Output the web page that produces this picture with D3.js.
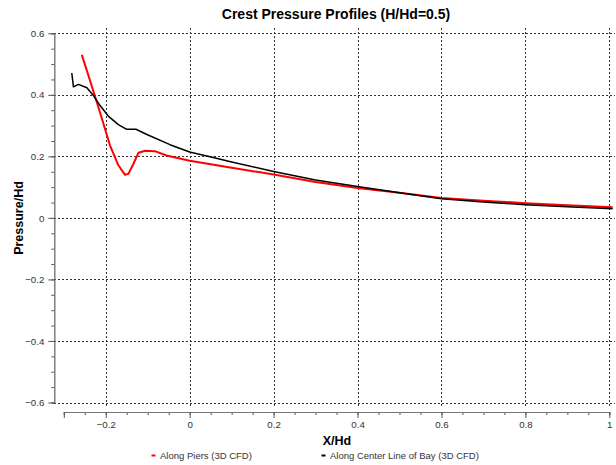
<!DOCTYPE html>
<html>
<head>
<meta charset="utf-8">
<script src="https://cdn.jsdelivr.net/npm/d3@7"></script>
<style>
  html, body { margin: 0; padding: 0; background: #fff; }
  svg { display: block; font-family: "Liberation Sans", Arial, sans-serif; }
</style>
</head>
<body>
<svg id="chart" width="616" height="465"></svg>
<script>
// Crest pressure profiles, normalized by design head
const pierX = [-0.257, -0.236, -0.214, -0.190, -0.170, -0.154, -0.146, -0.134, -0.122, -0.106, -0.083, -0.055, 0.0, 0.1, 0.2, 0.3, 0.4, 0.5, 0.6, 0.7, 0.8, 0.9, 1.008];
const pierY = [0.530, 0.440, 0.344, 0.236, 0.171, 0.140, 0.143, 0.176, 0.212, 0.218, 0.217, 0.203, 0.186, 0.163, 0.141, 0.117, 0.097, 0.082, 0.065, 0.056, 0.048, 0.041, 0.035];

const centerX = [-0.281, -0.277, -0.265, -0.245, -0.230, -0.214, -0.194, -0.170, -0.150, -0.128, -0.102, -0.047, 0.0, 0.056, 0.1, 0.2, 0.3, 0.4, 0.5, 0.6, 0.7, 0.8, 0.9, 1.008];
const centerY = [0.471, 0.426, 0.434, 0.423, 0.399, 0.366, 0.331, 0.303, 0.288, 0.288, 0.271, 0.238, 0.214, 0.196, 0.182, 0.151, 0.123, 0.102, 0.082, 0.062, 0.052, 0.043, 0.036, 0.030];

const xTicks = [-0.2, 0, 0.2, 0.4, 0.6, 0.8, 1];
const yTicks = [-0.6, -0.4, -0.2, 0, 0.2, 0.4, 0.6];
const xMinor = d3.range(-0.3, 1.0001, 0.05).map(v => +v.toFixed(2));
const yMinor = d3.range(-0.6, 0.6001, 0.05).map(v => +v.toFixed(2));

const seriesNames = ["Along Piers (3D CFD)", "Along Center Line of Bay (3D CFD)"];
const seriesColors = ["#ff0000", "#000000"];

const titleText = "Crest Pressure Profiles (H/Hd=0.5)";
const xLabel = "X/Hd";
const yLabel = "Pressure/Hd";

const svg = d3.select("#chart");

const x = d3.scaleLinear().domain([-0.3, 1]).range([63.8, 609.3]);
const y = d3.scaleLinear().domain([-0.6, 0.6]).range([402.5, 33.3]);

const yAxisX = 54.3;
const xAxisY = 412;
const fmt = d => (d === 0 ? "0" : d3.format("")(+d.toFixed(1)));

// grid
const grid = svg.append("g").attr("stroke", "#333").attr("stroke-width", 1)
  .attr("stroke-dasharray", "2,2").attr("shape-rendering", "crispEdges");
grid.selectAll("line.v").data(xTicks).join("line").attr("class", "v")
  .attr("x1", d => Math.round(x(d)) + 0.5).attr("x2", d => Math.round(x(d)) + 0.5)
  .attr("y1", 28).attr("y2", 407);
grid.selectAll("line.h").data(yTicks).join("line").attr("class", "h")
  .attr("x1", yAxisX).attr("x2", 615)
  .attr("y1", d => Math.round(y(d)) + 0.5).attr("y2", d => Math.round(y(d)) + 0.5);

// y axis
const yMinorAxis = d3.axisLeft(y).tickValues(yMinor).tickSize(3).tickFormat("");
const yMajorAxis = d3.axisLeft(y).tickValues(yTicks).tickSize(6).tickSizeOuter(0).tickFormat(fmt);
const gy = svg.append("g").attr("transform", `translate(${yAxisX},0)`);
gy.append("g").call(yMinorAxis);
gy.append("g").call(yMajorAxis);

// x axis
const xMinorAxis = d3.axisBottom(x).tickValues(xMinor).tickSize(3).tickFormat("");
const xMajorAxis = d3.axisBottom(x).tickValues(xTicks.concat([-0.3])).tickSize(6).tickSizeOuter(0)
  .tickFormat(d => (d === -0.3 ? "" : fmt(d)));
const gx = svg.append("g").attr("transform", `translate(0,${xAxisY})`);
gx.append("g").call(xMinorAxis);
gx.append("g").call(xMajorAxis);

svg.selectAll(".domain").attr("stroke", "#777");
svg.selectAll(".tick line").attr("stroke", "#555");
svg.selectAll(".tick text").attr("fill", "#333").style("font-size", "9.7px");
gx.selectAll(".tick text").attr("dy", "0.71em").attr("y", 9);
gy.selectAll(".tick text").attr("x", -10);

// series lines
const line = d3.line().x(d => x(d[0])).y(d => y(d[1]));
const pierPts = pierX.map((v, i) => [v, pierY[i]]);
const centerPts = centerX.map((v, i) => [v, centerY[i]]);

svg.append("path").datum(pierPts).attr("d", line)
  .attr("fill", "none").attr("stroke", seriesColors[0]).attr("stroke-width", 2)
  .attr("stroke-linejoin", "round");
svg.append("path").datum(centerPts).attr("d", line)
  .attr("fill", "none").attr("stroke", seriesColors[1]).attr("stroke-width", 1.5)
  .attr("stroke-linejoin", "round");

// title and axis labels
svg.append("text").attr("x", 336).attr("y", 19).attr("text-anchor", "middle")
  .style("font-size", "14px").style("font-weight", "bold").attr("fill", "#000").text(titleText);
svg.append("text").attr("x", 337).attr("y", 445).attr("text-anchor", "middle")
  .style("font-size", "12.5px").style("font-weight", "bold").attr("fill", "#000").text(xLabel);
svg.append("text").attr("transform", `translate(23,218) rotate(-90)`).attr("text-anchor", "middle")
  .style("font-size", "12.5px").style("font-weight", "bold").attr("fill", "#000").text(yLabel);

// legend
const legendX = [151.5, 321.5];
const leg = svg.append("g");
seriesNames.forEach((name, i) => {
  leg.append("line").attr("x1", legendX[i]).attr("x2", legendX[i] + 4)
    .attr("y1", 455.5).attr("y2", 455.5)
    .attr("stroke", seriesColors[i]).attr("stroke-width", 2);
  leg.append("text").attr("x", legendX[i] + 8.5).attr("y", 459)
    .style("font-size", "9.5px").attr("fill", "#333").text(name);
});
</script>
</body>
</html>
